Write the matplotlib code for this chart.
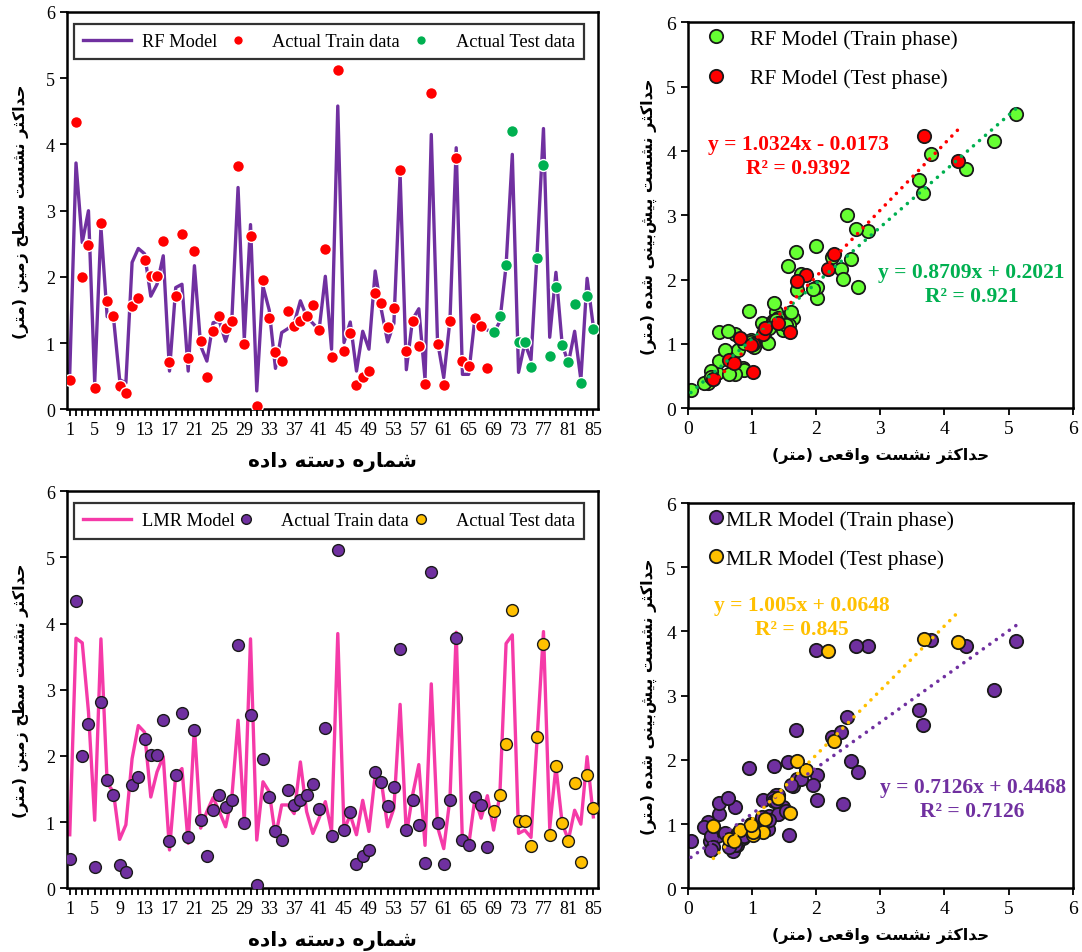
import matplotlib.pyplot as plt
import matplotlib.patheffects as pe
from matplotlib.lines import Line2D
import numpy as np

# measured maximum surface settlement (m) for the 85 data sets
actual = [0.45, 4.34, 2.00, 2.48, 0.32, 2.81, 1.64, 1.41, 0.35, 0.25,
          1.56, 1.68, 2.25, 2.01, 2.01, 2.54, 0.71, 1.71, 2.65, 0.77,
          2.39, 1.03, 0.49, 1.18, 1.41, 1.23, 1.34, 3.67, 0.99, 2.62,
          0.05, 1.96, 1.38, 0.86, 0.73, 1.49, 1.26, 1.34, 1.41, 1.58,
          1.20, 2.42, 0.79, 5.12, 0.88, 1.16, 0.37, 0.49, 0.58, 1.76,
          1.61, 1.25, 1.53, 3.61, 0.88, 1.33, 0.96, 0.39, 4.78, 0.99,
          0.37, 1.34, 3.79, 0.73, 0.65, 1.38, 1.26, 0.62, 1.17, 1.41,
          2.18, 4.21, 1.02, 1.02, 0.64, 2.28, 3.69, 0.81, 1.85, 0.98,
          0.72, 1.59, 0.40, 1.71, 1.21]

# random forest prediction
rf_pred = [0.55, 3.72, 2.52, 3.00, 0.40, 2.75, 1.40, 1.40, 0.45, 0.40,
           2.22, 2.43, 2.35, 1.71, 1.89, 2.32, 0.58, 1.84, 1.89, 0.58,
           2.17, 0.96, 0.73, 1.31, 1.33, 1.03, 1.35, 3.35, 1.06, 2.79,
           0.28, 1.86, 1.50, 0.62, 1.16, 1.22, 1.30, 1.64, 1.40, 1.30,
           1.20, 2.01, 0.91, 4.58, 1.01, 1.32, 0.58, 1.18, 0.91, 2.09,
           1.50, 1.02, 1.30, 3.55, 0.60, 1.36, 1.52, 0.45, 4.15, 1.03,
           0.48, 1.35, 3.95, 0.53, 0.53, 1.38, 1.25, 1.20, 1.15, 1.33,
           2.17, 3.85, 0.56, 1.00, 0.75, 2.40, 4.24, 1.09, 2.07, 0.98,
           0.70, 1.18, 0.45, 1.98, 1.25]

# multiple linear regression prediction
mlr_pred = [0.81, 3.78, 3.71, 2.67, 1.03, 3.77, 1.59, 1.46, 0.74, 0.96,
            1.96, 2.46, 2.36, 1.38, 1.76, 1.99, 0.58, 1.71, 1.81, 0.68,
            2.43, 0.91, 1.16, 1.37, 1.16, 0.93, 1.37, 2.54, 1.00, 3.77,
            0.73, 1.61, 1.46, 0.78, 1.26, 1.26, 1.13, 1.91, 1.16, 0.83,
            1.06, 1.31, 0.86, 3.85, 0.88, 1.11, 0.81, 1.33, 0.86, 1.71,
            1.61, 0.93, 1.21, 2.78, 0.81, 1.41, 1.87, 0.65, 3.09, 0.93,
            0.60, 1.36, 3.87, 0.68, 0.65, 1.36, 1.06, 1.40, 0.88, 1.41,
            3.70, 3.83, 0.83, 0.88, 0.77, 2.29, 3.88, 0.91, 1.84, 0.98,
            0.73, 1.18, 0.97, 1.99, 1.08]

n_train = 68

# trend line equations (slope, intercept, R2)
rf_train_fit = (0.8709, 0.2021, 0.921)
rf_test_fit = (1.0324, -0.0173, 0.9392)
mlr_train_fit = (0.7126, 0.4468, 0.7126)
mlr_test_fit = (1.005, 0.0648, 0.845)

xlab_left = 'شماره دسته داده'
ylab_left = 'حداکثر نشست سطح زمین (متر)'
xlab_right = 'حداکثر نشست واقعی (متر)'
ylab_right = 'حداکثر نشست پیش\u200cبینی شده (متر)'

# contextual forms: isolated, final, initial, medial
FORMS = {
    'ا': ('\uFE8D', '\uFE8E', None, None),
    'ب': ('\uFE8F', '\uFE90', '\uFE91', '\uFE92'),
    'ت': ('\uFE95', '\uFE96', '\uFE97', '\uFE98'),
    'ث': ('\uFE99', '\uFE9A', '\uFE9B', '\uFE9C'),
    'ح': ('\uFEA1', '\uFEA2', '\uFEA3', '\uFEA4'),
    'د': ('\uFEA9', '\uFEAA', None, None),
    'ر': ('\uFEAD', '\uFEAE', None, None),
    'ز': ('\uFEAF', '\uFEB0', None, None),
    'س': ('\uFEB1', '\uFEB2', '\uFEB3', '\uFEB4'),
    'ش': ('\uFEB5', '\uFEB6', '\uFEB7', '\uFEB8'),
    'ط': ('\uFEC1', '\uFEC2', '\uFEC3', '\uFEC4'),
    'ع': ('\uFEC9', '\uFECA', '\uFECB', '\uFECC'),
    'ق': ('\uFED5', '\uFED6', '\uFED7', '\uFED8'),
    'م': ('\uFEE1', '\uFEE2', '\uFEE3', '\uFEE4'),
    'ن': ('\uFEE5', '\uFEE6', '\uFEE7', '\uFEE8'),
    'ه': ('\uFEE9', '\uFEEA', '\uFEEB', '\uFEEC'),
    'و': ('\uFEED', '\uFEEE', None, None),
    'پ': ('\uFB56', '\uFB57', '\uFB58', '\uFB59'),
    'ک': ('\uFB8E', '\uFB8F', '\uFB90', '\uFB91'),
    'ی': ('\uFBFC', '\uFBFD', '\uFBFE', '\uFBFF'),
}


def fa(text):
    # join the letters and put them in display (left to right) order
    out = []
    for k, c in enumerate(text):
        if c not in FORMS:
            if c != '\u200c':
                out.append(c)
            continue
        prev = text[k - 1] if k > 0 else ''
        nxt = text[k + 1] if k + 1 < len(text) else ''
        jp = prev in FORMS and FORMS[prev][2] is not None
        jn = FORMS[c][2] is not None and nxt in FORMS
        iso, fin, ini, med = FORMS[c]
        out.append(med if (jp and jn) else fin if jp else ini if jn else iso)
    return ''.join(reversed(out)).translate(str.maketrans('()', ')('))


serif = 'Liberation Serif'
fa_font = dict(family='DejaVu Sans', weight='bold')
plt.rcParams['font.family'] = serif

idx = np.arange(1, 86)
actual = np.array(actual)
rf_pred = np.array(rf_pred)
mlr_pred = np.array(mlr_pred)

fig = plt.figure(figsize=(10.82, 9.53), dpi=100)


def series_panel(rect, pred, line_col, line_lab, tr_col, te_col, tr_edge):
    ax = fig.add_axes(rect)
    ax.plot(idx, pred, color=line_col, lw=2.4, zorder=2,
            path_effects=[pe.Stroke(linewidth=3.8, foreground='white'), pe.Normal()])
    ax.plot(idx[:n_train], actual[:n_train], 'o', ms=8.5, color=tr_col,
            mec=tr_edge, mew=1.0, zorder=3)
    ax.plot(idx[n_train:], actual[n_train:], 'o', ms=8.5, color=te_col,
            mec=tr_edge, mew=1.0, zorder=3)
    ax.set_xlim(0.5, 85.7)
    ax.set_ylim(0, 6)
    ax.set_xticks(idx)
    ax.set_xticklabels([str(i) if (i - 1) % 4 == 0 else '' for i in idx])
    ax.set_yticks(range(7))
    ax.tick_params(direction='out', length=5, width=1.3, labelsize=13)
    for s in ax.spines.values():
        s.set_linewidth(1.8)
    ax.set_xlabel(fa(xlab_left), fontsize=14.5, **fa_font)
    ax.set_ylabel(fa(ylab_left), fontsize=11.5, **fa_font)
    ax.xaxis.set_label_coords(0.5, -0.105)
    ax.yaxis.set_label_coords(-0.07, 0.5)
    handles = [Line2D([], [], color=line_col, lw=2.4),
               Line2D([], [], ls='', marker='o', ms=7, color=tr_col, mec=tr_edge, mew=1.0),
               Line2D([], [], ls='', marker='o', ms=7, color=te_col, mec=tr_edge, mew=1.0)]
    leg = ax.legend(handles, [line_lab, 'Actual Train data', 'Actual Test data'],
                    ncol=3, loc='upper left', bbox_to_anchor=(-0.004, 0.993, 0.995, 0),
                    mode='expand', fancybox=False, edgecolor='black', fontsize=13.2,
                    handlelength=2.6, handletextpad=0.6, borderpad=0.5, columnspacing=1.0)
    leg.get_frame().set_linewidth(1.6)
    return ax


def scatter_panel(rect, pred, tr_col, te_col, labels, fits, eq_pos, eq_cols, hpad):
    ax = fig.add_axes(rect)
    ax.plot(actual[:n_train], pred[:n_train], 'o', ms=9.6, color=tr_col,
            mec='#1a1a1a', mew=1.3, label=labels[0], zorder=2)
    ax.plot(actual[n_train:], pred[n_train:], 'o', ms=9.6, color=te_col,
            mec='#1a1a1a', mew=1.3, label=labels[1], zorder=3)
    parts = [actual[:n_train], actual[n_train:]]
    for (m, b, r2), xs, col, (ex, ey) in zip(fits, parts, eq_cols, eq_pos):
        xx = np.array([xs.min(), xs.max()])
        ax.plot(xx, m * xx + b, color=col, lw=2.6, zorder=4,
                ls=(0, (0.01, 2.2)), dash_capstyle='round')
        sign = '+' if b >= 0 else '-'
        ax.text(ex, ey, 'y = %gx %s %g' % (m, sign, abs(b)), color=col,
                fontsize=15.5, weight='bold', ha='center', va='center')
        ax.text(ex, ey - 0.37, 'R² = %g' % r2, color=col,
                fontsize=15.5, weight='bold', ha='center', va='center')
    ax.set_xlim(0, 6)
    ax.set_ylim(0, 6)
    ax.set_xticks(range(7))
    ax.set_yticks(range(7))
    ax.tick_params(direction='out', length=5, width=1.3, labelsize=14)
    for s in ax.spines.values():
        s.set_linewidth(1.8)
    ax.set_xlabel(fa(xlab_right), fontsize=11.5, **fa_font)
    ax.set_ylabel(fa(ylab_right), fontsize=11.5, **fa_font)
    ax.xaxis.set_label_coords(0.5, -0.1)
    ax.yaxis.set_label_coords(-0.08, 0.5)
    ax.legend(loc='upper left', frameon=False, fontsize=15.5, borderaxespad=0.2,
              handletextpad=hpad, labelspacing=0.9, borderpad=0.1)
    return ax


series_panel([0.0616, 0.5693, 0.4908, 0.4171], rf_pred, '#7030A0', 'RF Model',
             '#FF0000', '#00B050', 'white')
series_panel([0.0616, 0.0668, 0.4908, 0.4166], mlr_pred, '#F53AA8', 'LMR Model',
             '#7030A0', '#FFC000', '#1a1a1a')

scatter_panel([0.6356, 0.5705, 0.3558, 0.405], rf_pred, '#66FF33', '#FF0000',
              ['RF Model (Train phase)', 'RF Model (Test phase)'],
              [rf_train_fit, rf_test_fit], [(4.42, 2.12), (1.72, 4.11)],
              ['#00B050', '#FF0000'], 0.6)
scatter_panel([0.6356, 0.0668, 0.3558, 0.4043], mlr_pred, '#7030A0', '#FFC000',
              ['MLR Model (Train phase)', 'MLR Model (Test phase)'],
              [mlr_train_fit, mlr_test_fit], [(4.44, 1.58), (1.78, 4.41)],
              ['#7030A0', '#FFC000'], -0.5)

fig.savefig('out.png', dpi=100)
